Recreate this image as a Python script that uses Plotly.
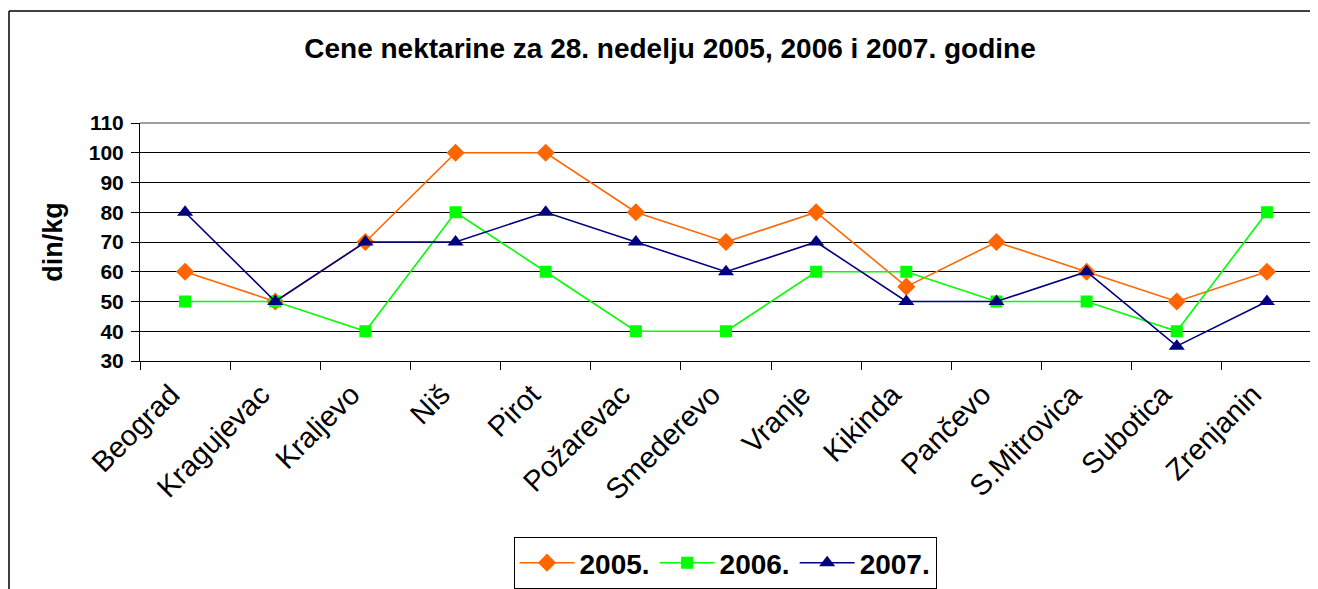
import plotly.graph_objects as go

cities = ["Beograd", "Kragujevac", "Kraljevo", "Niš", "Pirot", "Požarevac", "Smederevo",
          "Vranje", "Kikinda", "Pančevo", "S.Mitrovica", "Subotica", "Zrenjanin"]
y2005 = [60, 50, 70, 100, 100, 80, 70, 80, 55, 70, 60, 50, 60]
y2006 = [50, 50, 40, 80, 60, 40, 40, 60, 60, 50, 50, 40, 80]
y2007 = [80, 50, 70, 70, 80, 70, 60, 70, 50, 50, 60, 35, 50]
yticks = [30, 40, 50, 60, 70, 80, 90, 100, 110]

# page body has an 8px margin; figure is drawn from (8, 8)
OFF = 8
W, H = 1318 - OFF, 589 - OFF
L, R, T, B = 140 - OFF, 6, 123 - OFF, 228
pw, ph = W - L - R, H - T - B

fig = go.Figure()
series = [("2005.", y2005, "#FF6600", "diamond", 14),
          ("2006.", y2006, "#00FF00", "square", 12),
          ("2007.", y2007, "#000080", "triangle-up", 14)]
for name, ys, col, sym, sz in series:
    fig.add_trace(go.Scatter(x=cities, y=ys, name=name, mode="lines+markers",
                             line=dict(color=col, width=1.6),
                             marker=dict(symbol=sym, size=sz, color=col)))

font = "Liberation Sans, Arial, sans-serif"
fig.update_layout(
    width=W, height=H, autosize=False,
    margin=dict(l=L, r=R, t=T, b=B, autoexpand=False),
    paper_bgcolor="white", plot_bgcolor="white",
    font=dict(family=font, color="black"),
    title=dict(text="Cene nektarine za 28. nedelju 2005, 2006 i 2007. godine",
               x=(670 - OFF) / W, xanchor="center", y=1 - (48 - OFF) / H, yanchor="middle",
               font=dict(size=28, family=font, color="black", weight="bold")),
    xaxis=dict(type="category", tickson="boundaries", ticks="outside", ticklen=8,
               tickcolor="black", showline=True, linecolor="black", linewidth=1,
               showgrid=False, tickangle=-45, tickfont=dict(size=29, family=font),
               ticklabelshift=-14, ticklabelstandoff=4,
               range=[-0.5, len(cities) - 0.5]),
    yaxis=dict(range=[30, 110], tickvals=yticks, ticks="outside", ticklen=8,
               tickcolor="black", showline=True, linecolor="black", linewidth=1,
               showgrid=True, gridcolor="black", gridwidth=1, ticklabelstandoff=3,
               tickfont=dict(size=21, family=font, weight="bold"),
               title=dict(text="din/kg", font=dict(size=27, family=font, weight="bold"),
                          standoff=18)),
    legend=dict(orientation="h", x=(725 - 140) / pw, xanchor="center",
                y=-(537 - 123 - ph) / ph, yanchor="top",
                bordercolor="black", borderwidth=1, bgcolor="white",
                font=dict(size=28, family=font, weight="bold"), itemwidth=55,
                traceorder="normal"),
    showlegend=True,
)
# plot area top/right grey border
fig.add_shape(type="line", xref="paper", yref="paper", x0=0, x1=1, y0=1, y1=1,
              line=dict(color="#808080", width=1.5))
fig.add_shape(type="line", xref="paper", yref="paper", x0=1, x1=1, y0=0, y1=1,
              line=dict(color="#808080", width=1.5))
# outer chart frame (left and top)
fx = (8 - 140 + 1) / pw
fy = 1 + (123 - 11) / ph
fig.add_shape(type="line", xref="paper", yref="paper", x0=fx, x1=fx, y0=fy, y1=-1.2,
              line=dict(color="black", width=1.5))
fig.add_shape(type="line", xref="paper", yref="paper", x0=fx, x1=1.05, y0=fy, y1=fy,
              line=dict(color="black", width=1.5))

fig.write_html("out.html")
